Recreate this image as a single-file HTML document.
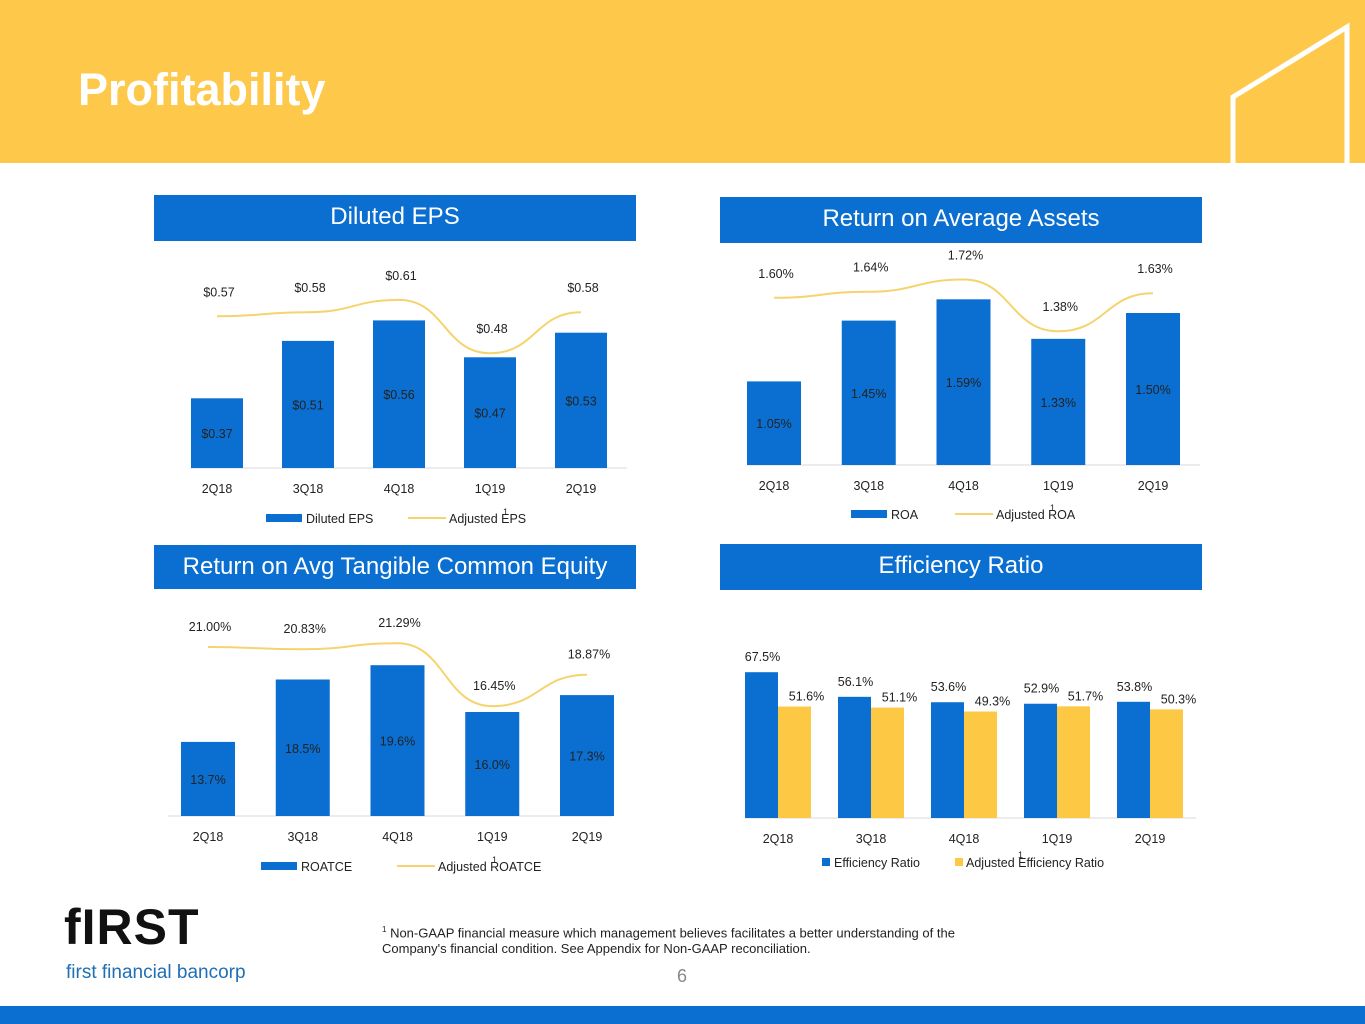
<!DOCTYPE html>
<html><head><meta charset="utf-8"><style>
body{margin:0;width:1365px;height:1024px;position:relative;overflow:hidden;background:#fff;font-family:"Liberation Sans",sans-serif}
.hdr{position:absolute;left:0;top:0;width:1365px;height:163px;background:#fec94b}
.ttl{position:absolute;left:78px;top:64px;font-size:45px;font-weight:bold;color:#fff}
.box{position:absolute;background:#0a6fd1;color:#fff;font-size:24px;text-align:center;width:482px}
.foot{position:absolute;left:382px;top:922px;font-size:13px;color:#222;line-height:16px}
</style></head><body>
<div class="hdr"></div>
<div class="ttl">Profitability</div>
<svg style="position:absolute;left:0;top:0" width="1365" height="170"><polyline points="1233,165 1233,97 1347,27 1347,165" fill="none" stroke="#fff" stroke-width="5"/></svg>
<div class="box" style="left:154px;top:195px;height:46px;line-height:44px">Diluted EPS</div>
<div class="box" style="left:720px;top:197px;height:46px;line-height:44px">Return on Average Assets</div>
<div class="box" style="left:154px;top:545px;height:44px;line-height:43px">Return on Avg Tangible Common Equity</div>
<div class="box" style="left:720px;top:544px;height:46px;line-height:44px">Efficiency Ratio</div>
<svg id="ch" style="position:absolute;left:0;top:0" width="1365" height="900"></svg>
<div style="position:absolute;left:64px;top:898px;font-size:50px;font-weight:bold;color:#111;letter-spacing:1px">fIRST</div>
<div style="position:absolute;left:66px;top:962px;font-size:19px;color:#1f6fb5">first financial bancorp</div>
<div class="foot"><sup style="font-size:8px">1</sup> Non-GAAP financial measure which management believes facilitates a better understanding of the<br>Company's financial condition.  See Appendix for Non-GAAP reconciliation.</div>
<div style="position:absolute;left:677px;top:966px;font-size:18px;color:#888">6</div>
<div style="position:absolute;left:0;top:1006px;width:1365px;height:18px;background:#0a6fd1"></div>
<script>
const cats=["2Q18","3Q18","4Q18","1Q19","2Q19"];
const epsBars=[0.37,0.51,0.56,0.47,0.53];
const epsLine=[0.57,0.58,0.61,0.48,0.58];
const epsBarLabels=["$0.37","$0.51","$0.56","$0.47","$0.53"];
const epsLineLabels=["$0.57","$0.58","$0.61","$0.48","$0.58"];
const roaBars=[1.05,1.45,1.59,1.33,1.50];
const roaLine=[1.60,1.64,1.72,1.38,1.63];
const roaBarLabels=["1.05%","1.45%","1.59%","1.33%","1.50%"];
const roaLineLabels=["1.60%","1.64%","1.72%","1.38%","1.63%"];
const rotBars=[13.7,18.5,19.6,16.0,17.3];
const rotLine=[21.00,20.83,21.29,16.45,18.87];
const rotBarLabels=["13.7%","18.5%","19.6%","16.0%","17.3%"];
const rotLineLabels=["21.00%","20.83%","21.29%","16.45%","18.87%"];
const effBlue=[67.5,56.1,53.6,52.9,53.8];
const effYellow=[51.6,51.1,49.3,51.7,50.3];
const effBlueLabels=["67.5%","56.1%","53.6%","52.9%","53.8%"];
const effYellowLabels=["51.6%","51.1%","49.3%","51.7%","50.3%"];

const svg=document.getElementById('ch');const NS="http://www.w3.org/2000/svg";
const BLUE="#0a6fd1",YL="#f5d46e",YB="#fdc843";
function mk(t,a,txt){const e=document.createElementNS(NS,t);for(const k in a)e.setAttribute(k,a[k]);if(txt!==undefined)e.textContent=txt;svg.appendChild(e);return e;}
function txt(x,y,s,name,anchor){const e=mk('text',{x:x,y:y,'font-size':12.5,fill:'#222','text-anchor':anchor||'middle','font-family':'Liberation Sans, sans-serif'},s);

return e;}
function lineChart(o){
 const xs=i=>o.x0+i*o.dx; const ys=v=>o.base-(v-o.min)*o.k;
 const ax=mk('line',{x1:o.ax0,x2:o.ax1,y1:o.base,y2:o.base,stroke:'#d9d9d9','stroke-width':1});
 
 
 o.bars.forEach((v,i)=>{const r=mk('rect',{x:xs(i)-o.bw/2,y:ys(v),width:o.bw,height:o.base-ys(v),fill:BLUE});
  
  
  txt(xs(i),(ys(v)+o.base)/2+5,o.bl[i],o.id+'-bar-label');
  txt(xs(i),o.base+25,cats[i],o.id+'-x-tick');});
 let d='M'+xs(0)+','+ys(o.line[0]);
 for(let i=1;i<o.line.length;i++){const x0=xs(i-1),y0=ys(o.line[i-1]),x1=xs(i),y1=ys(o.line[i]);const cx=(x1-x0)/2;d+=' C'+(x0+cx)+','+y0+' '+(x1-cx)+','+y1+' '+x1+','+y1;}
 const p=mk('path',{d:d,fill:'none',stroke:YL,'stroke-width':2});
 
 
 o.line.forEach((v,i)=>txt(xs(i)+2,ys(v)-o.lo,o.ll[i],o.id+'-line-label'));
 const lr=mk('rect',{x:o.lx,y:o.ly-4,width:36,height:8,fill:BLUE});
 
 
 txt(o.lx+40,o.ly+5,o.n1,o.id+'-legend-text','start');
 const ll=mk('line',{x1:o.lx2,x2:o.lx2+38,y1:o.ly,y2:o.ly,stroke:YL,'stroke-width':2});
 
 
 txt(o.lx2+41,o.ly+5,o.n2,o.id+'-legend-text','start');
 const s=txt(o.sx,o.ly-3,'1',o.id+'-legend-sup','start');s.setAttribute('font-size',9);
}
lineChart({id:'eps',x0:217,dx:91,bw:52,base:468,min:0.2,k:410,ax0:190,ax1:627,bars:epsBars,line:epsLine,bl:epsBarLabels,ll:epsLineLabels,lo:20,lx:266,lx2:408,ly:518,n1:'Diluted EPS',n2:'Adjusted EPS',sx:503});
lineChart({id:'roa',x0:774,dx:94.75,bw:54,base:465,min:0.5,k:152,ax0:747,ax1:1200,bars:roaBars,line:roaLine,bl:roaBarLabels,ll:roaLineLabels,lo:20,lx:851,lx2:955,ly:514,n1:'ROA',n2:'Adjusted ROA',sx:1050});
lineChart({id:'roatce',x0:208,dx:94.75,bw:54,base:816,min:8,k:13,ax0:168,ax1:612,bars:rotBars,line:rotLine,bl:rotBarLabels,ll:rotLineLabels,lo:16,lx:261,lx2:397,ly:866,n1:'ROATCE',n2:'Adjusted ROATCE',sx:492});
(function(){
 const x0=778,dx=93,bw=33,base=818,k=2.16;const xs=i=>x0+i*dx;const ys=v=>base-v*k;
 const ax=mk('line',{x1:745,x2:1196,y1:base,y2:base,stroke:'#d9d9d9'});
 
 
 cats.forEach((c,i)=>{
  const b=mk('rect',{x:xs(i)-bw,y:ys(effBlue[i]),width:bw,height:effBlue[i]*k,fill:BLUE});
  
  
  const y=mk('rect',{x:xs(i),y:ys(effYellow[i]),width:bw,height:effYellow[i]*k,fill:YB});
  
  
  txt(xs(i)-bw/2+1,ys(effBlue[i])-11,effBlueLabels[i],'efficiency-label');
  txt(xs(i)+bw/2+12,ys(effYellow[i])-6,effYellowLabels[i],'adjusted-efficiency-label');
  txt(xs(i),base+25,c,'efficiency-x-tick');
 });
 const r1=mk('rect',{x:822,y:858,width:8,height:8,fill:BLUE});
 
 
 txt(834,867,'Efficiency Ratio','efficiency-legend-text','start');
 const r2=mk('rect',{x:955,y:858,width:8,height:8,fill:YB});
 
 
 txt(966,867,'Adjusted Efficiency Ratio','efficiency-legend-text','start');
 const s=txt(1018,858,'1','efficiency-legend-sup','start');s.setAttribute('font-size',9);
})();
</script>
</body></html>
